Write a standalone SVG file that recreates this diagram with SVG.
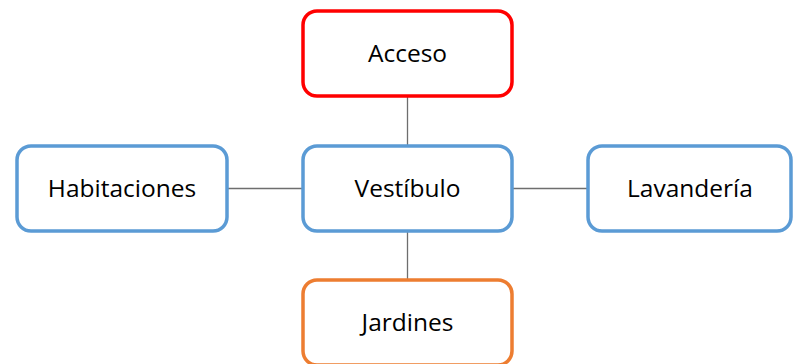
<svg xmlns="http://www.w3.org/2000/svg" width="793" height="364" viewBox="0 0 793 364">
  <style>
    .box { fill: #ffffff; stroke-width: 3.5; }
    .blue { stroke: #5b9bd5; }
    .red { stroke: #ff0000; }
    .orange { stroke: #ed7d31; }
    .label { font-family: "Open Sans", "Liberation Sans", sans-serif; font-size: 24.5px; fill: #000000; text-anchor: middle; dominant-baseline: central; }
    .link { stroke: #6e6e6e; stroke-width: 1.3; fill: none; }
  </style>
  <rect width="793" height="364" fill="#ffffff"/>
  <g id="connectors">
    <line class="link" x1="407.5" y1="96" x2="407.5" y2="146"/>
    <line class="link" x1="228" y1="188.5" x2="303" y2="188.5"/>
    <line class="link" x1="512" y1="188.5" x2="588" y2="188.5"/>
    <line class="link" x1="407.5" y1="231" x2="407.5" y2="280"/>
  </g>
  <g id="acceso">
    <rect class="box red" x="303" y="11" width="209" height="85" rx="14"/>
    <text class="label" x="407.5" y="52">Acceso</text>
  </g>
  <g id="habitaciones">
    <rect class="box blue" x="17" y="146" width="210" height="85" rx="14"/>
    <text class="label" x="122" y="187">Habitaciones</text>
  </g>
  <g id="vestibulo">
    <rect class="box blue" x="303" y="146" width="209" height="85" rx="14"/>
    <text class="label" x="407.5" y="187">Vestíbulo</text>
  </g>
  <g id="lavanderia">
    <rect class="box blue" x="588" y="146" width="203" height="85" rx="14"/>
    <text class="label" x="690" y="187">Lavandería</text>
  </g>
  <g id="jardines">
    <rect class="box orange" x="303" y="280" width="209" height="85" rx="14"/>
    <text class="label" x="407.5" y="321">Jardines</text>
  </g>
</svg>
